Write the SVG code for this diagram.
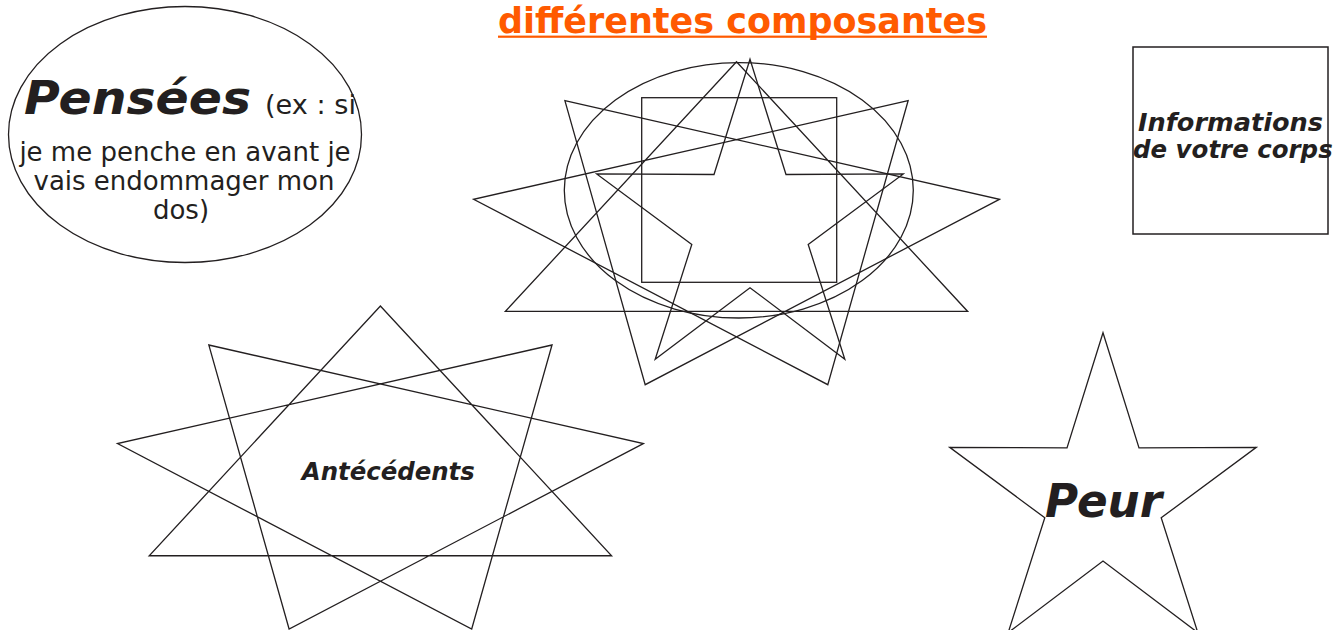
<svg xmlns="http://www.w3.org/2000/svg" width="1339" height="630" viewBox="0 0 1339 630">
  <style>
    .shape { fill: none; stroke: #231F20; stroke-width: 1.3; stroke-linejoin: miter; }
    .box { fill: none; stroke: #231F20; stroke-width: 1.5; }
    .lbl { font-family: "DejaVu Sans", Verdana, sans-serif; fill: #231F20; }
    .bi { font-weight: bold; font-style: italic; }
    .title { font-family: "DejaVu Sans", Verdana, sans-serif; font-weight: bold; fill: #FF5A00; }
  </style>
  <rect x="0" y="0" width="1339" height="630" fill="#FFFFFF"/>

  <g id="title">
    <text class="title" x="498" y="32.7" font-size="35" textLength="489" lengthAdjust="spacingAndGlyphs">différentes composantes</text>
    <rect x="498" y="35.6" width="489" height="2.2" fill="#FF5A00"/>
  </g>

  <g id="pensees">
    <ellipse class="shape" cx="185" cy="134.5" rx="176.5" ry="128"/>
    <text class="lbl bi" x="24" y="113.5" font-size="46" textLength="227" lengthAdjust="spacingAndGlyphs">Pensées</text>
    <text class="lbl" x="265" y="113.5" font-size="26" textLength="91" lengthAdjust="spacingAndGlyphs">(ex : si</text>
    <text class="lbl" x="185" y="160.5" font-size="26" text-anchor="middle">je me penche en avant je</text>
    <text class="lbl" x="184" y="189.5" font-size="26" text-anchor="middle">vais endommager mon</text>
    <text class="lbl" x="181" y="218.5" font-size="26" text-anchor="middle">dos)</text>
  </g>

  <g id="composantes">
    <ellipse class="shape" cx="738.8" cy="190.3" rx="174.5" ry="127.7"/>
    <rect class="shape" x="641.7" y="97.7" width="195" height="184.6"/>
    <path class="shape" d="M736.5,61.7 L967.7,311.45 L505.3,311.45 Z M908.1,100.7 L827.8,384.7 L473.6,199.3 Z M999.4,199.3 L645.2,384.7 L564.9,100.7 Z"/>
    <polygon class="shape" points="750,59.3 786,174.5 903.3,173.9 808.2,244.4 844.8,359.2 750,287.7 655.2,359.2 691.8,244.4 596.7,173.9 714,174.5"/>
  </g>

  <g id="informations">
    <rect class="box" x="1133" y="47" width="195" height="187"/>
    <text class="lbl bi" x="1138" y="130.7" font-size="25.5" textLength="185" lengthAdjust="spacingAndGlyphs">Informations</text>
    <text class="lbl bi" x="1133" y="158" font-size="25.5" textLength="199.7" lengthAdjust="spacingAndGlyphs">de votre corps</text>
  </g>

  <g id="antecedents">
    <path class="shape" d="M380.4,306 L611.6,555.75 L149.2,555.75 Z M552,345 L471.7,629 L117.5,443.6 Z M643.3,443.6 L289.1,629 L208.8,345 Z"/>
    <text class="lbl bi" x="301.8" y="480" font-size="24.4" textLength="173" lengthAdjust="spacingAndGlyphs">Antécédents</text>
  </g>

  <g id="peur">
    <polygon class="shape" points="1103,332.7 1139,447.9 1256.3,447.3 1161.2,517.8 1197.8,632.6 1103,561.1 1008.2,632.6 1044.8,517.8 949.7,447.3 1067,447.9"/>
    <text class="lbl bi" x="1045" y="517.3" font-size="46" textLength="117" lengthAdjust="spacingAndGlyphs">Peur</text>
  </g>

  <g id="connectors"/>
</svg>
